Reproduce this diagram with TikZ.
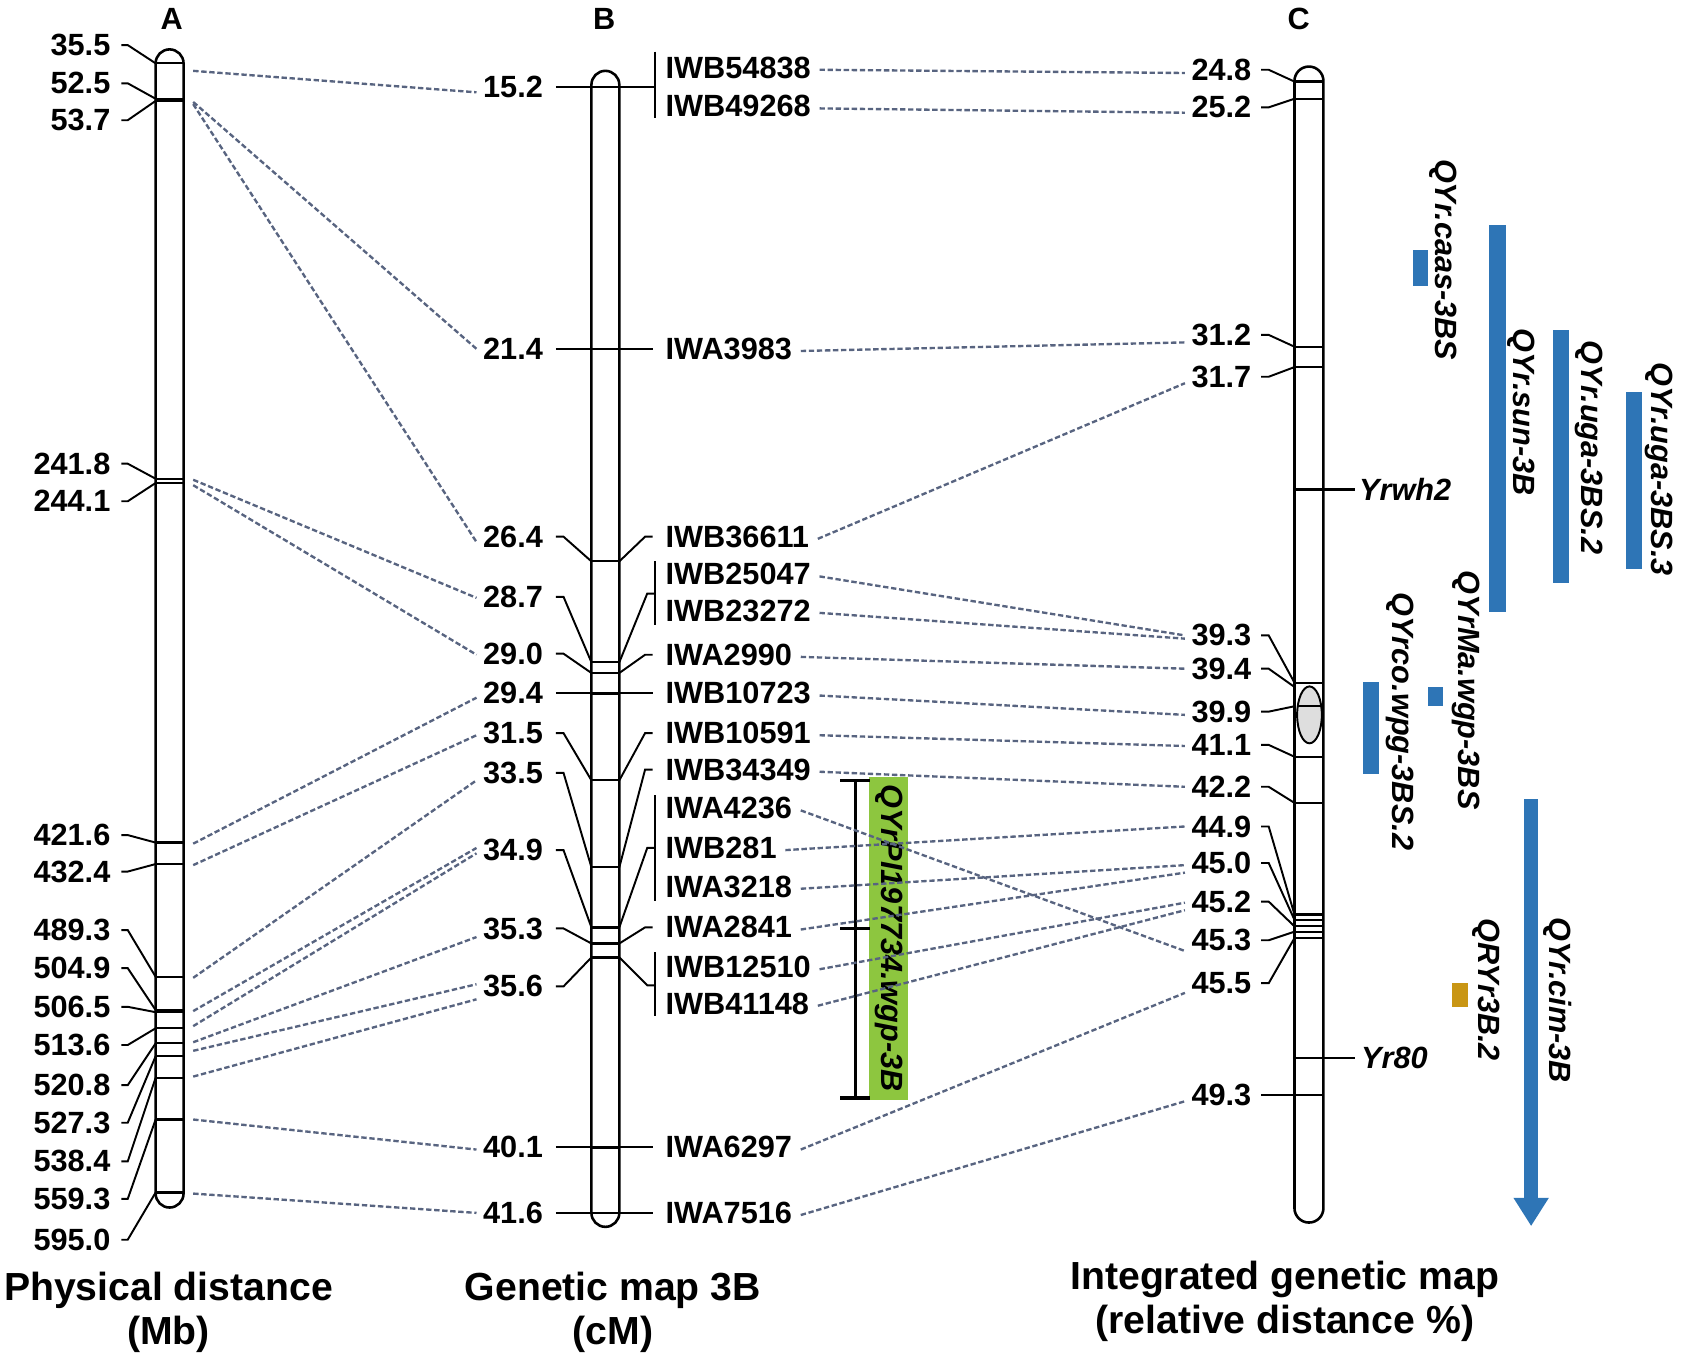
\documentclass[tikz,border=0pt]{standalone}
\usepackage{fontspec}
\setmainfont{Liberation Sans}
\usetikzlibrary{calc}
\definecolor{linkc}{RGB}{88,100,128}
\definecolor{qblue}{RGB}{46,117,182}
\definecolor{qgold}{RGB}{201,150,20}
\definecolor{qgreen}{RGB}{141,198,63}
\definecolor{cengray}{RGB}{222,222,222}
\newcommand\lbf{\fontsize{28.6}{34}\selectfont\bfseries}
\newcommand\lbi{\fontsize{28.6}{34}\selectfont\bfseries\itshape}
\newcommand\titlefont{\fontsize{36.5}{42}\selectfont\bfseries}
\begin{document}
\begin{tikzpicture}[x=1pt,y=-1pt,
  lbl/.style={font=\lbf, inner sep=0pt},
  chrom/.style={draw=black, line width=2.4pt, fill=white, rounded corners=13pt},
  band/.style={draw=black, line width=2.1pt},
  lead/.style={draw=black, line width=1.8pt},
  link/.style={draw=linkc, line width=2.2pt, dash pattern=on 5pt off 2.5pt},
  qtl/.style={font=\lbi, inner sep=0pt, rotate=-90},
  brk/.style={draw=black, line width=3pt}]
\useasboundingbox (0,0) rectangle (1568,1270);

% headers
\node[lbl] (hA) at (160,18) {A};
\node[lbl] (hB) at (563,18) {B};
\node[lbl] (hC) at (1210,18) {C};

% green QTL box and bracket
\node[qtl, fill=qgreen, minimum width=301pt, minimum height=36pt] (gbox) at (828,874) {QYrPI197734.wgp-3B};
\draw[brk] (797,727) -- (797,1023);
\draw[brk] (783,727) -- (811,727);
\draw[brk] (783,865) -- (811,865);
\draw[brk] (783,1023) -- (811,1023);

% chromosomes
\draw[chrom] (145,46) rectangle (171,1125);
\draw[chrom] (551,66) rectangle (577,1143);
\draw[chrom, rounded corners=13.5pt] (1206,62) rectangle (1233,1139);

\foreach \y in {59,92,94,446,450,785,805,910,941,943,958,972,984,1004,1043,1111}
  \draw[band] (145,\y) -- (171,\y);
\foreach \y in {81,325,523,617,627,646,727,808,864,879,892,1069,1130}
  \draw[band] (551,\y) -- (577,\y);
\foreach \y in {76,92,323,342,636,705,748,852,857,863,868,874,1020}
  \draw[band] (1206,\y) -- (1233,\y);
\draw[line width=1.8pt, fill=cengray] (1220,666) ellipse [x radius=11.5pt, y radius=26.5pt];
\draw[band] (1209,658) -- (1231,658);

% A labels
\foreach \n/\y/\t in {a1/42/35.5, a2/77.6/52.5, a3/112/53.7, a4/432/241.8, a5/467/244.1,
  a6/778/421.6, a7/812/432.4, a8/866.5/489.3, a9/902/504.9, a10/938/506.5, a11/973.6/513.6,
  a12/1011/520.8, a13/1046/527.3, a14/1082/538.4, a15/1117/559.3, a16/1155/595.0}
  \node[lbl, anchor=east] (\n) at (103,\y) {\t};
\foreach \n/\b in {a1/59, a2/92, a3/94, a4/446, a5/450, a6/785, a7/805, a8/910, a9/941,
  a10/943, a11/958, a12/972, a13/984, a14/1004, a15/1043, a16/1111}
  \draw[lead] ($(\n.east)+(10,0)$) -- ++(6,0) -- (145,\b);

% B labels left
\foreach \n/\y/\t in {bl1/81/15.2, bl2/325/21.4, bl3/500/26.4, bl4/556/28.7, bl5/609/29.0,
  bl6/646/29.4, bl7/683/31.5, bl8/720/33.5, bl9/792/34.9, bl10/865/35.3, bl11/919/35.6,
  bl12/1069/40.1, bl13/1130/41.6}
  \node[lbl, anchor=east] (\n) at (506,\y) {\t};
% B labels right
\foreach \n/\y/\t in {br1/63/IWB54838, br2/99/IWB49268, br3/325/IWA3983, br4/500/IWB36611,
  br5/535/IWB25047, br6/569/IWB23272, br7/610/IWA2990, br8/646/IWB10723, br9/683/IWB10591,
  br10/717/IWB34349, br11/753/IWA4236, br12/790/IWB281, br13/826/IWA3218, br14/864/IWA2841,
  br15/901/IWB12510, br16/935/IWB41148, br17/1069/IWA6297, br18/1130/IWA7516}
  \node[lbl, anchor=west] (\n) at (620,\y) {\t};

\foreach \n/\b in {bl3/523, bl4/617, bl5/627, bl7/727, bl8/808, bl9/864, bl10/879, bl11/892}
  \draw[lead] ($(\n.east)+(12,0)$) -- ++(7,0) -- (551,\b);
\foreach \n/\b in {br4/523, br7/627, br9/727, br10/808, br14/879}
  \draw[lead] ($(\n.west)+(-12,0)$) -- ++(-7,0) -- (577,\b);
\draw[lead] ($(bl1.east)+(12,0)$) -- (610,81);
\draw[lead] (610,48) -- (610,110);
\draw[lead] ($(bl2.east)+(12,0)$) -- ($(br3.west)+(-12,0)$);
\draw[lead] ($(bl6.east)+(12,0)$) -- ($(br8.west)+(-12,0)$);
\draw[lead] ($(bl12.east)+(12,0)$) -- ($(br17.west)+(-12,0)$);
\draw[lead] ($(bl13.east)+(12,0)$) -- ($(br18.west)+(-12,0)$);
\draw[lead] (610,523) -- (610,582);
\draw[lead] (610,553) -- (603,553) -- (577,617);
\draw[lead] (610,741) -- (610,839);
\draw[lead] (610,790) -- (603,790) -- (577,864);
\draw[lead] (610,887) -- (610,947);
\draw[lead] (610,918) -- (603,918) -- (577,892);

% C labels
\foreach \n/\y/\t in {c1/65/24.8, c2/100/25.2, c3/312/31.2, c4/351/31.7, c5/592/39.3,
  c6/623/39.4, c7/663/39.9, c8/694/41.1, c9/733/42.2, c10/770/44.9, c11/804/45.0,
  c12/840/45.2, c13/876/45.3, c14/916/45.5, c15/1020/49.3}
  \node[lbl, anchor=east] (\n) at (1166,\y) {\t};
\foreach \n/\b in {c1/76, c2/92, c3/323, c4/342, c5/636, c6/640, c7/658, c8/705, c9/748,
  c10/852, c11/857, c12/863, c13/868, c14/874, c15/1020}
  \draw[lead] ($(\n.east)+(9,0)$) -- ++(7,0) -- (1206,\b);

% genes
\draw[band] (1206,456) -- (1262,456);
\node[font=\lbi, inner sep=0pt, anchor=west] (yrwh) at (1266,456) {Yrwh2};
\draw[band] (1206,986) -- (1262,986);
\node[font=\lbi, inner sep=0pt, anchor=west] (yr80) at (1268,986) {Yr80};

% links A -> B
\foreach \i/\s/\n/\d in {1/66/bl1/5, 2/95/bl2/0, 3/97/bl3/5, 4/447/bl4/1, 5/452/bl5/1,
  6/786/bl6/4, 7/806/bl7/2, 8/911/bl8/7, 9/942/bl9/-2, 10/956/bl9/3, 11/971/bl10/8,
  12/979/bl11/-2, 13/1003/bl11/12, 14/1043/bl12/2, 15/1112/bl13/0}
{
  \coordinate (as\i) at (180,\s);
  \draw[link] (as\i) -- ($(\n.west)+(-6,\d)$);
}
% links B -> C
\foreach \m/\n/\d in {br1/c1/3, br2/c2/5, br3/c3/7, br4/c4/6, br5/c5/0, br6/c5/3, br7/c6/0,
  br8/c7/3, br9/c8/1, br10/c9/0, br11/c13/10, br12/c10/0, br13/c11/2, br14/c11/9,
  br15/c12/1, br16/c12/8, br17/c14/9, br18/c15/6}
  \draw[link] ($(\m.east)+(8,2)$) -- ($(\n.west)+(-6,\d)$);

% QTL bars
\fill[qblue] (1316,233) rectangle (1330,266);
\node[qtl] (q1) at (1345,242) {QYr.caas-3BS};
\fill[qblue] (1387,210) rectangle (1403,570);
\node[qtl] (q2) at (1417,384) {QYr.sun-3B};
\fill[qblue] (1447,307) rectangle (1462,543);
\node[qtl] (q3) at (1480,417) {QYr.uga-3BS.2};
\fill[qblue] (1515,365) rectangle (1530,530);
\node[qtl] (q4) at (1546,437) {QYr.uga-3BS.3};
\fill[qblue] (1330,640) rectangle (1344,658);
\node[qtl] (q5) at (1366,643) {QYrMa.wgp-3BS};
\fill[qblue] (1270,635) rectangle (1285,721);
\node[qtl] (q6) at (1304,672) {QYrco.wpg-3BS.2};
\fill[qgold] (1353,916) rectangle (1368,938);
\node[qtl] (q7) at (1385,922) {QRYr3B.2};
\fill[qblue] (1420,744) rectangle (1433,1118);
\fill[qblue] (1410,1116) -- (1443,1116) -- (1426.5,1142) -- cycle;
\node[qtl] (q8) at (1451,932) {QYr.cim-3B};

% titles
\node[font=\titlefont, inner sep=0pt, anchor=base] (t1) at (157,1212) {Physical distance};
\node[font=\titlefont, inner sep=0pt, anchor=base] (t2) at (157,1253) {(Mb)};
\node[font=\titlefont, inner sep=0pt, anchor=base] (t3) at (571,1212) {Genetic map 3B};
\node[font=\titlefont, inner sep=0pt, anchor=base] (t4) at (571,1253) {(cM)};
\node[font=\titlefont, inner sep=0pt, anchor=base] (t5) at (1197,1201) {Integrated genetic map};
\node[font=\titlefont, inner sep=0pt, anchor=base] (t6) at (1197,1242) {(relative distance \%)};
\end{tikzpicture}
\end{document}
